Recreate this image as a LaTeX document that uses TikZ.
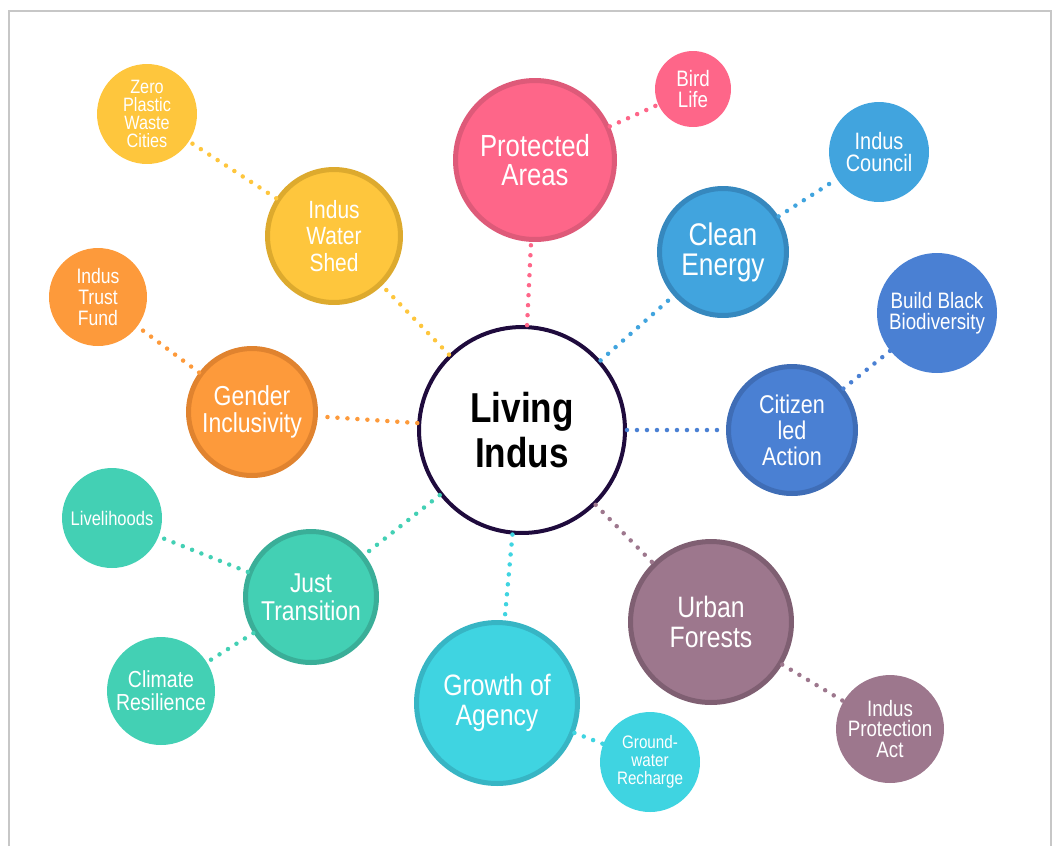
\documentclass[tikz,border=0pt]{standalone}
\usepackage{fontspec}
\setmainfont{Liberation Sans}[FakeStretch=0.84]
\usepackage{tikz}
\usetikzlibrary{positioning}
\definecolor{yelf}{HTML}{FEC63D}\definecolor{yeld}{HTML}{DDAA2E}
\definecolor{oraf}{HTML}{FD9A3B}\definecolor{orad}{HTML}{E0832F}
\definecolor{pinf}{HTML}{FE6689}\definecolor{pind}{HTML}{DE5A79}
\definecolor{skyf}{HTML}{41A4DE}\definecolor{skyd}{HTML}{3688BE}
\definecolor{bluf}{HTML}{4A80D3}\definecolor{blud}{HTML}{3F6DB6}
\definecolor{teaf}{HTML}{43D0B4}\definecolor{tead}{HTML}{3AAE98}
\definecolor{cyaf}{HTML}{3FD4E1}\definecolor{cyad}{HTML}{37B5C4}
\definecolor{mauf}{HTML}{9D778D}\definecolor{maud}{HTML}{7F5F72}
\definecolor{hubd}{HTML}{1F0B3D}
\newcommand\fsz[2]{\fontsize{#1}{#2}\selectfont}

\begin{document}
\begin{tikzpicture}[x=0.02cm,y=-0.02cm,
  every node/.style={circle,text=white,align=center,inner sep=0pt},
  main/.style 2 args={fill=#1,draw=#2,line width=0.1cm},
  leaf/.style={fill=#1},
  link/.style={#1,line width=0.09cm,line cap=round,dash pattern=on 0pt off 0.2cm}]
  \useasboundingbox (0,0) rectangle (1053,846);
  \draw[black!22,line width=0.04cm] (9,846) -- (9,11) -- (1051,11) -- (1051,846);

  \node[draw=hubd,fill=white,text=black,line width=0.08cm,minimum size=4.12cm,font=\fsz{23.8}{26}\bfseries] (hub) at (522,430) {Living\\Indus};

  \node[main={pinf}{pind},minimum size=3.18cm,font=\fsz{17.4}{17}] (pa) at (535,160) {Protected\\Areas};
  \node[main={yelf}{yeld},minimum size=2.66cm,font=\fsz{14.2}{15.3}] (iws) at (334,236) {Indus\\Water\\Shed};
  \node[main={oraf}{orad},minimum size=2.54cm,font=\fsz{15.6}{15.2}] (gi) at (252,412) {Gender\\Inclusivity};
  \node[main={skyf}{skyd},minimum size=2.54cm,font=\fsz{17.8}{17}] (ce) at (723,252) {Clean\\Energy};
  \node[main={bluf}{blud},minimum size=2.54cm,font=\fsz{14.6}{14.7}] (cla) at (792,430) {Citizen\\led\\Action};
  \node[main={teaf}{tead},minimum size=2.62cm,font=\fsz{15.5}{15.9}] (jt) at (311,597) {Just\\Transition};
  \node[main={cyaf}{cyad},minimum size=3.22cm,font=\fsz{16.8}{17}] (ga) at (497,703) {Growth of\\Agency};
  \node[main={mauf}{maud},minimum size=3.22cm,font=\fsz{16.8}{17}] (uf) at (711,622) {Urban\\Forests};

  \node[leaf=yelf,minimum size=2cm,font=\fsz{11}{10.2}] (zpw) at (147,114) {Zero\\Plastic\\Waste\\Cities};
  \node[leaf=oraf,minimum size=1.96cm,font=\fsz{11.9}{11.9}] (itf) at (98,297) {Indus\\Trust\\Fund};
  \node[leaf=pinf,minimum size=1.52cm,font=\fsz{12.7}{12.5}] (bl) at (693,89) {Bird\\Life};
  \node[leaf=skyf,minimum size=2cm,font=\fsz{13.5}{12.5}] (ic) at (879,152) {Indus\\Council};
  \node[leaf=bluf,minimum size=2.4cm,font=\fsz{12.7}{11.9}] (bbb) at (937,313) {Build Black\\Biodiversity};
  \node[leaf=teaf,minimum size=2cm,font=\fsz{11.2}{11}] (lh) at (112,518) {Livelihoods};
  \node[leaf=teaf,minimum size=2.16cm,font=\fsz{13.2}{13}] (cr) at (161,691) {Climate\\Resilience};
  \node[leaf=cyaf,minimum size=2cm,font=\fsz{10.3}{10.2}] (gwr) at (650,762) {Ground-\\water\\Recharge};
  \node[leaf=mauf,minimum size=2.16cm,font=\fsz{12.7}{11.9}] (ipa) at (890,729) {Indus\\Protection\\Act};

  \draw[link=pinf] (hub) -- (pa);
  \draw[link=pinf] (pa) -- (bl);
  \draw[link=yelf] (hub) -- (iws);
  \draw[link=yelf] (iws) -- (zpw);
  \draw[link=oraf] (hub) -- (gi);
  \draw[link=oraf] (gi) -- (itf);
  \draw[link=skyf] (hub) -- (ce);
  \draw[link=skyf] (ce) -- (ic);
  \draw[link=bluf] (hub) -- (cla);
  \draw[link=bluf] (cla) -- (bbb);
  \draw[link=teaf] (hub) -- (jt);
  \draw[link=teaf] (jt) -- (lh);
  \draw[link=teaf] (jt) -- (cr);
  \draw[link=cyaf] (hub) -- (ga);
  \draw[link=cyaf] (ga) -- (gwr);
  \draw[link=mauf] (hub) -- (uf);
  \draw[link=mauf] (uf) -- (ipa);
\end{tikzpicture}
\end{document}
